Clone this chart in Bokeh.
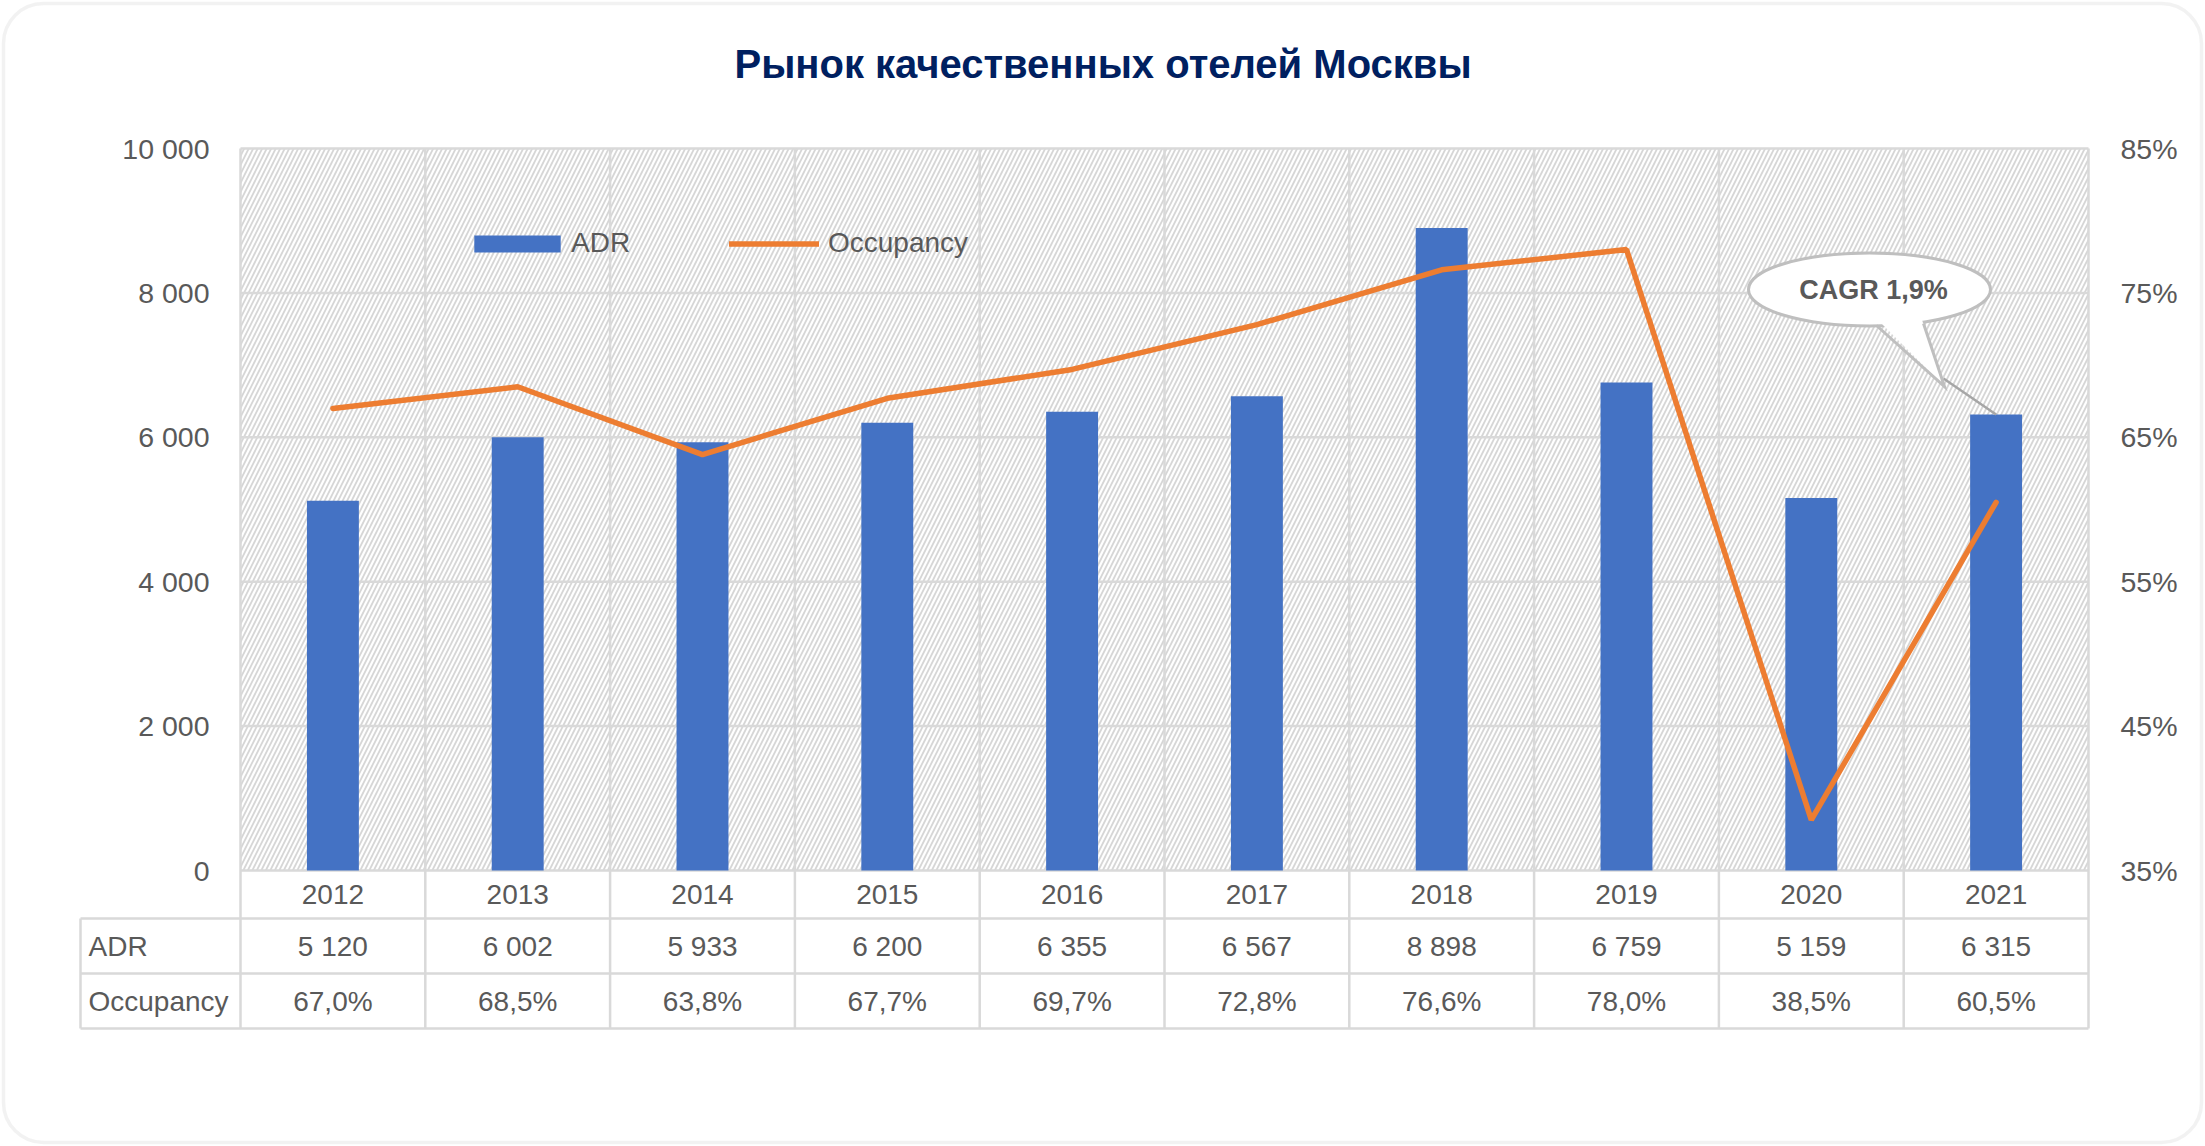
from bokeh.plotting import figure
from bokeh.models import (Range1d, LinearAxis, FixedTicker, Legend, LegendItem,
                          BoxAnnotation)
from bokeh.core.properties import value
from bokeh.embed import file_html
from bokeh.resources import INLINE

# ---------------- data ----------------
years = ["2012", "2013", "2014", "2015", "2016", "2017", "2018", "2019", "2020", "2021"]
adr = [5120, 6002, 5933, 6200, 6355, 6567, 8898, 6759, 5159, 6315]
occupancy = [67.0, 68.5, 63.8, 67.7, 69.7, 72.8, 76.6, 78.0, 38.5, 60.5]
adr_ticks = [0, 2000, 4000, 6000, 8000, 10000]
occ_ticks = [35, 45, 55, 65, 75, 85]
row_labels = ["ADR", "Occupancy"]
title_text = "Рынок качественных отелей Москвы"
cagr_text = "CAGR 1,9%"


def fmt_thousands(v):
    return f"{v:,}".replace(",", " ")


def fmt_pct(v):
    return f"{v:.1f}%".replace(".", ",")


# ---------------- layout (pixels) ----------------
W, H = 2205, 1146
PL, PR, PT, PB = 240, 2088, 148, 870        # plot area
TABLE_LEFT = 80
ROW_LINES = [918, 973, 1028]
n = len(years)
cat_w = (PR - PL) / n
adr_max = adr_ticks[-1]
occ_lo, occ_hi = occ_ticks[0], occ_ticks[-1]


def xd(px):
    return (px - PL) / cat_w


def yd(px):
    return (PB - px) / (PB - PT) * adr_max


def yp(px):
    return occ_lo + (PB - px) / (PB - PT) * (occ_hi - occ_lo)


GRID = "#d9d9d9"
TXT = "#595959"
FONT = "Liberation Sans"

p = figure(width=W, height=H,
           x_range=Range1d(xd(0), xd(W)),
           y_range=Range1d(yd(H), yd(0)),
           x_axis_type=None, y_axis_type=None,
           output_backend="svg", toolbar_location=None,
           min_border_left=0, min_border_right=0,
           min_border_top=0, min_border_bottom=0)
p.title.visible = False
p.extra_y_ranges = {"pct": Range1d(yp(H), yp(0))}
p.outline_line_color = None
p.background_fill_color = "white"
p.border_fill_color = "white"

# hatched plot area
p.quad(left=[0], right=[n], bottom=[adr_ticks[0]], top=[adr_max],
       fill_color="white", line_color=None,
       hatch_pattern="right_diagonal_line", hatch_color="#d6d6d6",
       hatch_weight=1.8, hatch_scale=9)

# grid + table lines
table_bottom = yd(ROW_LINES[-1])
x_left = xd(TABLE_LEFT)
seg_x0, seg_y0, seg_x1, seg_y1 = [], [], [], []
for t in adr_ticks:
    seg_x0.append(0); seg_x1.append(n); seg_y0.append(t); seg_y1.append(t)
for i in range(n + 1):
    seg_x0.append(i); seg_x1.append(i); seg_y0.append(table_bottom); seg_y1.append(adr_max)
for r in ROW_LINES:
    seg_x0.append(x_left); seg_x1.append(n); seg_y0.append(yd(r)); seg_y1.append(yd(r))
seg_x0.append(x_left); seg_x1.append(x_left); seg_y0.append(yd(ROW_LINES[0])); seg_y1.append(table_bottom)
p.segment(seg_x0, seg_y0, seg_x1, seg_y1, line_color=GRID, line_width=2.5)

centers = [i + 0.5 for i in range(n)]

bars = p.vbar(x=centers, top=adr, width=0.281, fill_color="#4472c4", line_color=None)
line = p.line(centers, occupancy, y_range_name="pct", line_color="#ed7d31",
              line_width=5.5, line_cap="round")

# axes
yl = LinearAxis(ticker=FixedTicker(ticks=adr_ticks), fixed_location=0,
                major_label_overrides={t: fmt_thousands(t) for t in adr_ticks})
yr = LinearAxis(y_range_name="pct", ticker=FixedTicker(ticks=occ_ticks), fixed_location=n,
                major_label_overrides={t: f"{t}%" for t in occ_ticks})
for ax, so in ((yl, 31), (yr, 32)):
    ax.axis_line_color = None
    ax.major_tick_line_color = None
    ax.minor_tick_line_color = None
    ax.major_tick_out = 0
    ax.major_tick_in = 0
    ax.major_label_standoff = so
    ax.major_label_text_font = FONT
    ax.major_label_text_font_size = "28.5px"
    ax.major_label_text_color = TXT
p.add_layout(yl, "left")
p.add_layout(yr, "right")

# title
p.text(x=[xd(W / 2)], y=[yd(63)], text=[title_text], text_align="center",
       text_baseline="alphabetic", text_font=value(FONT), text_font_size="40px",
       text_font_style="bold", text_color="#002060")

# table texts
row_centers = [(PB + ROW_LINES[0]) / 2, (ROW_LINES[0] + ROW_LINES[1]) / 2, (ROW_LINES[1] + ROW_LINES[2]) / 2]
tstyle = dict(text_font=value(FONT), text_font_size="28px", text_color=TXT,
              text_baseline="middle")
p.text(x=centers, y=[yd(row_centers[0])] * n, text=years, text_align="center", **tstyle)
p.text(x=centers, y=[yd(row_centers[1])] * n, text=[fmt_thousands(v) for v in adr],
       text_align="center", **tstyle)
p.text(x=centers, y=[yd(row_centers[2])] * n, text=[fmt_pct(v) for v in occupancy],
       text_align="center", **tstyle)
p.text(x=[xd(88)] * 2, y=[yd(row_centers[1]), yd(row_centers[2])], text=row_labels,
       text_align="left", **tstyle)

# CAGR callout
cx, cy = 1869, 289
bar_top_x = centers[-1]
bar_top_y = adr[-1]
p.segment([xd(1943)], [yd(378)], [bar_top_x], [bar_top_y], line_color="#a6a6a6", line_width=2.5)
p.ellipse(x=[xd(cx)], y=[yd(cy)], width=242, height=73, width_units="screen",
          height_units="screen", fill_color="white", line_color="#bfbfbf", line_width=3)
p.patch([xd(1878), xd(1921), xd(1944)], [yd(320), yd(318), yd(386)],
        fill_color="white", line_color=None)
p.line([xd(1876), xd(1944), xd(1923)], [yd(325), yd(386), yd(323)],
       line_color="#bfbfbf", line_width=3, line_join="miter")
p.text(x=[xd(1873)], y=[yd(289)], text=[cagr_text], text_align="center",
       text_baseline="middle", text_font=value(FONT), text_font_size="27px",
       text_font_style="bold", text_color=TXT)

# legends
leg_common = dict(padding=0, margin=0, spacing=0, background_fill_alpha=0,
                  border_line_color=None, label_text_font=FONT,
                  label_text_font_size="28px", label_text_color=TXT,
                  glyph_height=21, label_height=21, orientation="horizontal")
leg1 = Legend(items=[LegendItem(label="ADR", renderers=[bars])],
              location=(463, H - 259), glyph_width=108, label_standoff=0,
              **leg_common)
leg2 = Legend(items=[LegendItem(label="Occupancy", renderers=[line])],
              location=(729, H - 259), glyph_width=90, label_standoff=9,
              **leg_common)
p.add_layout(leg1)
p.add_layout(leg2)

# rounded outer border
p.add_layout(BoxAnnotation(left=xd(3), right=xd(W - 4), top=yd(3), bottom=yd(H - 4),
                           fill_color=None, line_color="#d4d4d4", line_width=3.5,
                           border_radius=40))

open("out.html", "w").write(file_html(p, INLINE))
